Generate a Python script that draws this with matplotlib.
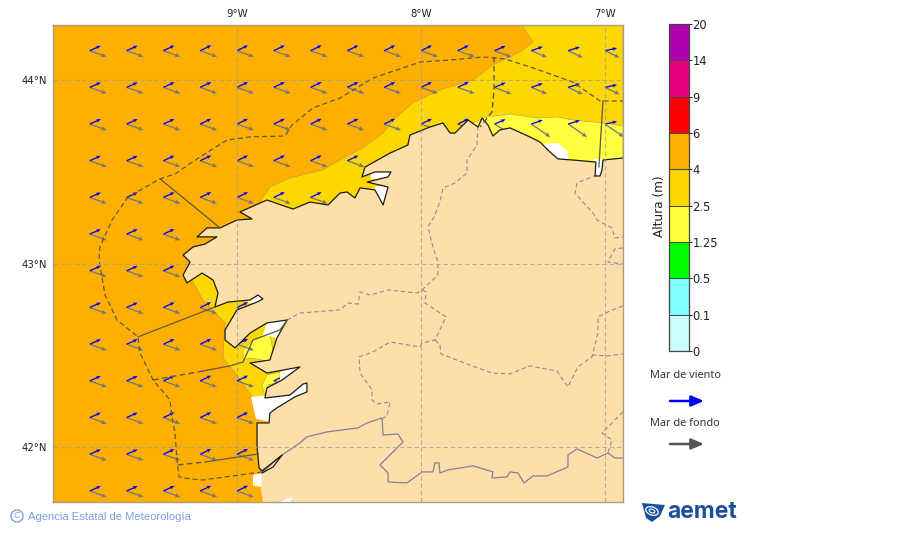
import matplotlib
matplotlib.use('Agg')
import matplotlib.pyplot as plt
from matplotlib.colors import ListedColormap, BoundaryNorm
from matplotlib.colorbar import ColorbarBase
from matplotlib.patches import Ellipse, Polygon
import numpy as np

# Colour classes of the wave height (m)
height_bounds = [0, 0.1, 0.5, 1.25, 2.5, 4, 6, 9, 14, 20]
height_labels = ['0', '0.1', '0.5', '1.25', '2.5', '4', '6', '9', '14', '20']
height_colors = ['#ccffff', '#80ffff', '#00ff00', '#ffff40', '#ffd700',
                 '#ffaf00', '#ff0000', '#e6007e', '#b000b0']
land_color = '#fedfaa'

# Arrow grid
grid_lon = [-9.8, -9.6, -9.4, -9.2, -9.0, -8.8, -8.6, -8.4, -8.2, -8.0, -7.8, -7.6, -7.4, -7.2, -7.0]
grid_lat = [44.16, 43.96, 43.76, 43.56, 43.36, 43.16, 42.96, 42.76, 42.56, 42.36, 42.16, 41.96, 41.76]
cols_per_row = [15, 15, 15, 8, 7, 3, 3, 5, 5, 6, 5, 5, 5]

# Arrow components by column, degrees on the map
wind_u = [0.060, 0.060, 0.060, 0.060, 0.060, 0.060, 0.060, 0.060, 0.060, 0.060, 0.060, 0.060, 0.062, 0.064, 0.066]
wind_v = [0.027, 0.027, 0.028, 0.029, 0.029, 0.029, 0.029, 0.029, 0.029, 0.029, 0.029, 0.026, 0.022, 0.020, 0.014]
swell_u = [0.092, 0.092, 0.092, 0.092, 0.092, 0.092, 0.092, 0.092, 0.092, 0.092, 0.092, 0.092, 0.085, 0.080, 0.080]
swell_v = [-0.033, -0.033, -0.033, -0.033, -0.033, -0.033, -0.033, -0.033, -0.033, -0.033, -0.033, -0.036, -0.036, -0.038, -0.038]
swell_u_row3 = [0.092, 0.092, 0.092, 0.092, 0.092, 0.092, 0.092, 0.092, 0.092, 0.092, 0.092, 0.100, 0.103, 0.103, 0.103]
swell_v_row3 = [-0.033, -0.033, -0.033, -0.033, -0.033, -0.033, -0.033, -0.033, -0.033, -0.033, -0.033, -0.060, -0.071, -0.071, -0.071]

# Coast of Galicia, east to south
coast_lon = [-6.902, -7.011, -7.016, -7.027, -7.054, -7.049, -7.174, -7.255, -7.299, -7.353, -7.408, -7.516,
             -7.571, -7.609, -7.636, -7.668, -7.690, -7.744, -7.815, -7.842, -7.880, -7.951, -8.060, -8.071,
             -8.168, -8.304, -8.321, -8.250, -8.163, -8.179, -8.293, -8.179, -8.206, -8.250, -8.331, -8.359,
             -8.402, -8.440, -8.505, -8.603, -8.696, -8.837, -8.984, -8.918, -9.000, -9.092, -9.163, -9.217,
             -9.109, -9.174, -9.239, -9.293, -9.255, -9.293, -9.272, -9.190, -9.130, -9.103, -9.120, -9.049,
             -8.929, -8.886, -8.859, -8.891, -9.000, -9.065, -9.065, -9.011, -8.929, -8.837, -8.728, -8.783,
             -8.821, -8.929, -8.837, -8.658, -8.755, -8.837, -8.848, -8.712, -8.641, -8.620, -8.620, -8.685,
             -8.783, -8.821, -8.826, -8.891, -8.891, -8.880, -8.864, -8.755, -8.804, -8.864]
coast_lat = [43.575, 43.564, 43.510, 43.477, 43.477, 43.553, 43.564, 43.570, 43.608, 43.662, 43.690, 43.739,
             43.728, 43.695, 43.755, 43.793, 43.744, 43.782, 43.711, 43.711, 43.766, 43.744, 43.700, 43.646,
             43.602, 43.526, 43.472, 43.499, 43.499, 43.472, 43.444, 43.417, 43.319, 43.401, 43.412, 43.357,
             43.390, 43.384, 43.319, 43.335, 43.297, 43.346, 43.281, 43.243, 43.237, 43.194, 43.194, 43.145,
             43.145, 43.106, 43.090, 43.046, 43.008, 42.937, 42.894, 42.948, 42.910, 42.839, 42.763, 42.790,
             42.801, 42.828, 42.807, 42.790, 42.747, 42.638, 42.583, 42.540, 42.621, 42.676, 42.692, 42.594,
             42.474, 42.458, 42.403, 42.436, 42.365, 42.322, 42.267, 42.283, 42.343, 42.349, 42.300, 42.273,
             42.213, 42.185, 42.131, 42.131, 42.000, 41.886, 41.869, 41.956, 41.891, 41.858]
land_tail_lon = [-8.870, -8.859, -8.777, -8.696, -8.712, -6.902]
land_tail_lat = [41.766, 41.700, 41.700, 41.728, 41.700, 41.700]

# Height zones over the sea
north_gold = [(-8.875, 43.335), (-8.821, 43.417), (-8.712, 43.466), (-8.533, 43.510), (-8.440, 43.564),
              (-8.315, 43.630), (-8.206, 43.711), (-8.152, 43.782), (-8.043, 43.875), (-7.897, 43.946),
              (-7.717, 44.000), (-7.609, 44.082), (-7.462, 44.153), (-7.391, 44.207), (-7.451, 44.300),
              (-6.902, 44.300), (-6.902, 43.400), (-8.800, 43.200)]
north_yellow = [(-7.760, 43.750), (-7.641, 43.799), (-7.516, 43.815), (-7.369, 43.793), (-7.261, 43.799),
                (-7.174, 43.782), (-7.011, 43.766), (-6.902, 43.750), (-6.902, 43.500), (-7.760, 43.500)]
south_gold = [(-9.245, 42.965), (-9.245, 42.910), (-9.185, 42.801), (-9.065, 42.676), (-9.071, 42.583),
              (-9.076, 42.485), (-9.000, 42.392), (-8.913, 42.267), (-8.710, 42.267), (-8.710, 42.800),
              (-8.980, 42.970)]
arousa_yellow = [(-8.967, 42.529), (-8.913, 42.583), (-8.821, 42.621), (-8.793, 42.463), (-8.929, 42.485),
                 (-8.967, 42.474)]
pontevedra_yellow = [(-8.837, 42.393), (-8.766, 42.409), (-8.766, 42.354), (-8.831, 42.338), (-8.848, 42.273),
                     (-8.864, 42.338)]

# Areas without data
no_data = [
    [(-7.380, 43.650), (-7.337, 43.651), (-7.255, 43.657), (-7.201, 43.608), (-7.201, 43.564), (-7.299, 43.537)],
    [(-7.010, 43.570), (-7.000, 43.470), (-7.060, 43.470), (-7.060, 43.570)],
    [(-8.270, 43.510), (-8.150, 43.510), (-8.150, 43.460), (-8.270, 43.460)],
    [(-8.250, 43.420), (-8.160, 43.430), (-8.190, 43.300), (-8.250, 43.380)],
    [(-8.940, 42.810), (-8.864, 42.845), (-8.864, 42.774), (-8.940, 42.785)],
    [(-8.864, 42.600), (-8.837, 42.676), (-8.728, 42.703), (-8.766, 42.583), (-8.821, 42.605)],
    [(-8.766, 42.409), (-8.647, 42.452), (-8.647, 42.409), (-8.766, 42.354)],
    [(-8.924, 42.273), (-8.821, 42.283), (-8.592, 42.376), (-8.592, 42.273), (-8.777, 42.120), (-8.821, 42.136),
     (-8.897, 42.153)],
    [(-8.864, 41.850), (-8.740, 41.970), (-8.740, 41.880), (-8.850, 41.850)],
    [(-8.913, 41.847), (-8.864, 41.858), (-8.859, 41.780), (-8.913, 41.790)],
    [(-8.790, 41.690), (-8.690, 41.740), (-8.690, 41.690)],
]

# Maritime zones
outer_lon = [-8.864, -9.185, -9.255, -9.315, -9.326, -9.337, -9.353, -9.364, -9.456, -9.527, -9.538, -9.652, -9.717,
             -9.750, -9.745, -9.679, -9.592, -9.418, -9.337, -9.201, -9.054, -8.929, -8.739, -8.701, -8.587, -8.440,
             -8.261, -8.005, -7.842, -7.663, -7.543, -7.391, -7.174, -7.027, -6.902]
outer_lat = [41.864, 41.820, 41.826, 41.837, 41.929, 42.076, 42.164, 42.256, 42.365, 42.512, 42.600, 42.692, 42.828,
             43.019, 43.090, 43.237, 43.363, 43.461, 43.488, 43.581, 43.673, 43.690, 43.695, 43.755, 43.848, 43.902,
             44.011, 44.098, 44.109, 44.126, 44.115, 44.066, 43.989, 43.886, 43.886]
zone_solid = [
    [(-9.418, 43.461), (-9.092, 43.194)],
    [(-9.538, 42.600), (-9.120, 42.763)],
    [(-9.185, 42.414), (-9.038, 42.442), (-8.967, 42.463), (-8.913, 42.583), (-8.766, 42.638), (-8.728, 42.692)],
    [(-9.174, 41.918), (-8.886, 41.962)],
    [(-7.011, 43.886), (-7.033, 43.526)],
]
zone_dashed = [
    [(-9.456, 42.365), (-9.185, 42.414)],
    [(-9.321, 41.902), (-9.174, 41.918)],
    [(-7.603, 44.126), (-7.603, 43.946), (-7.614, 43.826), (-7.679, 43.744)],
]

# Province limits and the border with Portugal
provinces = [
    [(-8.728, 42.692), (-8.658, 42.730), (-8.440, 42.747), (-8.397, 42.785), (-8.342, 42.779), (-8.331, 42.845),
     (-8.277, 42.828), (-8.179, 42.856), (-8.022, 42.839), (-7.994, 42.856), (-7.908, 42.937), (-7.908, 43.008),
     (-7.935, 43.090), (-7.962, 43.199), (-7.929, 43.254), (-7.897, 43.335), (-7.880, 43.412), (-7.815, 43.439),
     (-7.750, 43.493), (-7.750, 43.564), (-7.696, 43.646), (-7.690, 43.744)],
    [(-7.994, 42.856), (-7.973, 42.845), (-7.978, 42.785), (-7.864, 42.709), (-7.924, 42.583), (-7.994, 42.567),
     (-8.005, 42.545), (-8.168, 42.572), (-8.261, 42.518), (-8.337, 42.491), (-8.331, 42.403), (-8.266, 42.311),
     (-8.266, 42.256), (-8.239, 42.234), (-8.168, 42.245), (-8.185, 42.169), (-8.212, 42.153)],
    [(-7.924, 42.583), (-7.897, 42.556), (-7.891, 42.507), (-7.750, 42.452), (-7.614, 42.403), (-7.516, 42.398),
     (-7.408, 42.442), (-7.261, 42.414), (-7.201, 42.327), (-7.147, 42.436), (-7.071, 42.491), (-7.038, 42.621),
     (-7.038, 42.709), (-6.973, 42.741), (-6.902, 42.769)],
    [(-7.071, 42.502), (-6.989, 42.496), (-6.902, 42.507)],
    [(-7.043, 43.482), (-7.152, 43.439), (-7.163, 43.384), (-7.119, 43.335), (-7.065, 43.275), (-7.043, 43.237),
     (-6.962, 43.194), (-6.946, 43.139), (-6.902, 43.145)],
    [(-6.902, 43.085), (-6.946, 43.079), (-6.984, 43.008), (-6.902, 42.997)],
    [(-6.902, 42.191), (-7.016, 42.076), (-6.962, 42.038), (-6.984, 41.967)],
]
border_lon = [-8.864, -8.755, -8.658, -8.620, -8.511, -8.342, -8.293, -8.212, -8.206, -8.125, -8.098, -8.223, -8.179,
              -8.179, -8.076, -7.994, -7.935, -7.924, -7.902, -7.897, -7.853, -7.717, -7.609, -7.614, -7.533, -7.516,
              -7.473, -7.440, -7.391, -7.315, -7.201, -7.201, -7.152, -7.043, -6.984, -6.946, -6.902]
border_lat = [41.864, 41.956, 42.022, 42.055, 42.082, 42.104, 42.131, 42.158, 42.065, 42.071, 42.027, 41.902, 41.858,
              41.809, 41.804, 41.864, 41.864, 41.913, 41.913, 41.858, 41.875, 41.897, 41.864, 41.831, 41.837, 41.864,
              41.858, 41.804, 41.842, 41.842, 41.891, 41.956, 41.989, 41.940, 41.967, 41.940, 41.940]

W, H = 900, 533
fig = plt.figure(figsize=(W / 100, H / 100), dpi=100)

# Map
ax = fig.add_axes([53 / W, 1 - 502 / H, 570 / W, 477 / H])
ax.set_xlim(-10, -6.902)
ax.set_ylim(41.7, 44.3)
ax.set_facecolor(height_colors[5])

for pts, col in [(north_gold, height_colors[4]), (south_gold, height_colors[4]),
                 (north_yellow, height_colors[3]), (arousa_yellow, height_colors[3]),
                 (pontevedra_yellow, height_colors[3])]:
    ax.add_patch(Polygon(pts, closed=True, facecolor=col, edgecolor='#b59a4a', linewidth=0.4, zorder=1))

# Arrows go under the land, so the coast cuts the ones that touch it
for i, lat in enumerate(grid_lat):
    n = cols_per_row[i]
    x = grid_lon[:n]
    y = [lat] * n
    su = swell_u_row3 if i == 2 else swell_u
    sv = swell_v_row3 if i == 2 else swell_v
    ax.quiver(x, y, su[:n], sv[:n], color='#777777', angles='xy', scale_units='xy', scale=1,
              units='dots', width=1.3, headwidth=3.4, headlength=4, headaxislength=3.6, zorder=1.4)
    ax.quiver(x, y, wind_u[:n], wind_v[:n], color='#0000ff', angles='xy', scale_units='xy', scale=1,
              units='dots', width=1.3, headwidth=2.8, headlength=3.4, headaxislength=3, zorder=1.5)

for pts in no_data:
    ax.add_patch(Polygon(pts, closed=True, facecolor='white', edgecolor='none', zorder=1.6))

land = list(zip(coast_lon + land_tail_lon, coast_lat + land_tail_lat))
ax.add_patch(Polygon(land, closed=True, facecolor=land_color, edgecolor='none', zorder=1.8))

ax.plot(border_lon, border_lat, color='#85809a', lw=0.9, zorder=1.9)
for line in provinces:
    xs, ys = zip(*line)
    ax.plot(xs, ys, color='#8f8a94', lw=0.8, ls=(0, (4, 2.5)), zorder=1.9)
ax.plot(coast_lon, coast_lat, color='#1c1c14', lw=0.9, zorder=2)

ax.plot(outer_lon, outer_lat, color='#5f5a3e', lw=0.9, ls=(0, (4, 2.5)), zorder=2.1)
for line in zone_dashed:
    xs, ys = zip(*line)
    ax.plot(xs, ys, color='#5f5a3e', lw=1.0, ls=(0, (4, 2.5)), zorder=2.1)
for line in zone_solid:
    xs, ys = zip(*line)
    ax.plot(xs, ys, color='#5f5a3e', lw=0.9, zorder=2.1)

ax.set_xticks([-9, -8, -7], ['9°W', '8°W', '7°W'])
ax.set_yticks([42, 43, 44], ['42°N', '43°N', '44°N'])
ax.xaxis.tick_top()
ax.tick_params(length=0, labelsize=7.3, colors='#222222', pad=4)
ax.set_axisbelow(False)
ax.grid(True, color='#9a9a9a', lw=0.8, ls=(0, (4, 2.5)), alpha=0.7)
for s in ax.spines.values():
    s.set_color('#a89f80')
    s.set_linewidth(1.0)

# Colour bar
cax = fig.add_axes([669 / W, 1 - 351 / H, 20 / W, 327 / H])
cmap = ListedColormap(height_colors)
norm = BoundaryNorm(height_bounds, cmap.N)
cbar = ColorbarBase(cax, cmap=cmap, norm=norm, spacing='uniform', boundaries=height_bounds,
                    ticks=height_bounds, drawedges=True)
cbar.ax.set_yticklabels(height_labels)
cbar.ax.tick_params(length=2, width=0.7, labelsize=8.3, pad=0.5, colors='#222222')
cbar.dividers.set_color('#444444')
cbar.dividers.set_linewidth(0.7)
cbar.outline.set_edgecolor('#444444')
cbar.outline.set_linewidth(0.9)
cbar.set_label('Altura (m)', fontsize=8.7, color='#222222', labelpad=2, y=0.443)
cbar.ax.yaxis.set_label_position('left')

# Legend, credit and logo on a sheet over the whole figure
sheet = fig.add_axes([0, 0, 1, 1], zorder=5)
sheet.set_xlim(0, W)
sheet.set_ylim(H, 0)
sheet.axis('off')

sheet.text(650, 376, 'Mar de viento', fontsize=7.9, family='Noto Sans', color='#333333', va='center')
sheet.annotate('', xy=(704, 401), xytext=(670, 401),
               arrowprops=dict(arrowstyle='-|>,head_width=0.32,head_length=0.75', color='#0000ff', lw=1.8, shrinkA=0, shrinkB=0))
sheet.text(650, 423, 'Mar de fondo', fontsize=7.9, family='Noto Sans', color='#333333', va='center')
sheet.annotate('', xy=(704, 444), xytext=(670, 444),
               arrowprops=dict(arrowstyle='-|>,head_width=0.32,head_length=0.75', color='#555555', lw=1.8, shrinkA=0, shrinkB=0))

sheet.add_patch(Ellipse((17, 516), 12, 12, facecolor='none', edgecolor='#7a9fe2', lw=1.0))
sheet.text(17, 516, 'C', fontsize=6.5, family='Liberation Sans', color='#7a9fe2', ha='center', va='center')
sheet.text(28, 516.5, 'Agencia Estatal de Meteorología', fontsize=8.1, family='Liberation Sans',
           color='#7a9fe2', va='center')

logo_blue = '#1d4f9f'
sheet.add_patch(Polygon([(642, 503), (665, 505), (660, 516), (652, 522), (646, 518)], closed=True,
                        facecolor=logo_blue, edgecolor='none'))
sheet.add_patch(Ellipse((652, 511), 13, 8, angle=20, facecolor='none', edgecolor='white', lw=0.9))
sheet.add_patch(Ellipse((652, 511), 6, 3.5, angle=20, facecolor='none', edgecolor='white', lw=0.8))
sheet.text(667, 512, 'aemet', fontsize=16.5, family='Inter', weight='bold', color=logo_blue, va='center')

fig.savefig('out.png', dpi=100)
